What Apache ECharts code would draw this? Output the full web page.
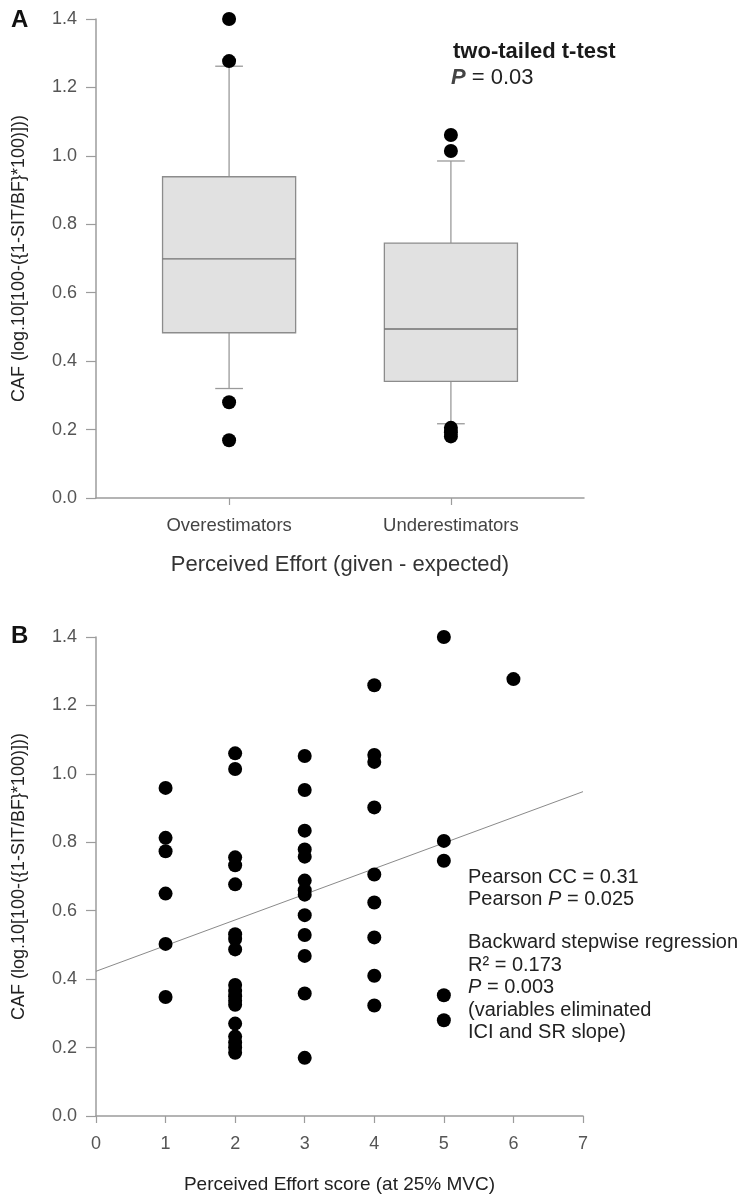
<!DOCTYPE html>
<html><head><meta charset="utf-8">
<script src="https://cdn.jsdelivr.net/npm/echarts@6/dist/echarts.min.js"></script>
<style>html,body{margin:0;padding:0;background:#fff}#chart{width:752px;height:1200px}</style>
</head><body><div id="chart"></div>
<script>
// ---------- Panel A: box plots ----------
const groups = ['Overestimators', 'Underestimators'];
const groupPos = [1, 2];
const whiskerLow = [0.320, 0.217];
const q1 = [0.483, 0.341];
const median = [0.699, 0.494];
const q3 = [0.939, 0.745];
const whiskerHigh = [1.262, 0.985];
const outliersOver = [1.400, 1.277, 0.280, 0.169];
const outliersUnder = [1.061, 1.014, 0.205, 0.192, 0.180];

// ---------- Panel B: scatter ----------
const scoreTicks = [0, 1, 2, 3, 4, 5, 6, 7];
const cafScore1 = [0.959, 0.813, 0.774, 0.650, 0.503, 0.348];
const cafScore2 = [1.060, 1.014, 0.756, 0.733, 0.677, 0.531, 0.517, 0.487, 0.383, 0.365, 0.350, 0.337, 0.325, 0.270, 0.232, 0.215, 0.200, 0.185];
const cafScore3 = [1.052, 0.953, 0.834, 0.779, 0.758, 0.688, 0.660, 0.647, 0.587, 0.529, 0.468, 0.358, 0.170];
const cafScore4 = [1.259, 1.055, 1.035, 0.902, 0.706, 0.624, 0.522, 0.410, 0.323];
const cafScore5 = [1.400, 0.804, 0.746, 0.353, 0.280];
const cafScore6 = [1.277];
const fitX = [0, 7];
const fitY = [0.423, 0.948];

const yTicksLabel = v => v.toFixed(1);
const FONT = '"Liberation Sans", Arial, sans-serif';
const axisGray = '#9c9c9c';

const boxData = groups.map((g, i) => [groupPos[i], whiskerLow[i], q1[i], median[i], q3[i], whiskerHigh[i]]);
const outlierData = [];
outliersOver.forEach(v => outlierData.push([groupPos[0], v]));
outliersUnder.forEach(v => outlierData.push([groupPos[1], v]));

const scatterData = [];
[cafScore1, cafScore2, cafScore3, cafScore4, cafScore5, cafScore6].forEach((arr, i) => {
  arr.forEach(v => scatterData.push([i + 1, v]));
});

function renderBox(params, api) {
  const x = api.value(0);
  const lo = api.coord([x, api.value(1)]);
  const b1 = api.coord([x, api.value(2)]);
  const md = api.coord([x, api.value(3)]);
  const b3 = api.coord([x, api.value(4)]);
  const hi = api.coord([x, api.value(5)]);
  const half = api.size([0.6, 0])[0] / 2;
  const cap = api.size([0.125, 0])[0] / 2;
  const ws = { stroke: '#9a9a9a', lineWidth: 1.3 };
  return {
    type: 'group',
    children: [
      { type: 'line', shape: { x1: lo[0], y1: lo[1], x2: b1[0], y2: b1[1] }, style: ws },
      { type: 'line', shape: { x1: b3[0], y1: b3[1], x2: hi[0], y2: hi[1] }, style: ws },
      { type: 'line', shape: { x1: lo[0] - cap, y1: lo[1], x2: lo[0] + cap, y2: lo[1] }, style: ws },
      { type: 'line', shape: { x1: hi[0] - cap, y1: hi[1], x2: hi[0] + cap, y2: hi[1] }, style: ws },
      { type: 'rect', shape: { x: b3[0] - half, y: b3[1], width: half * 2, height: b1[1] - b3[1] },
        style: { fill: '#e1e1e1', stroke: '#8c8c8c', lineWidth: 1.3 } },
      { type: 'line', shape: { x1: md[0] - half, y1: md[1], x2: md[0] + half, y2: md[1] },
        style: { stroke: '#707070', lineWidth: 1.3 } }
    ]
  };
}

const yAxisCommon = {
  type: 'value', min: 0, max: 1.4, interval: 0.2,
  name: 'CAF (log.10[100-({1-SIT/BF}*100)]))',
  nameLocation: 'middle', nameGap: 68, nameRotate: 90,
  nameTextStyle: { fontSize: 18, color: '#222', fontFamily: FONT },
  axisLine: { show: true, lineStyle: { color: axisGray, width: 1.5 } },
  axisTick: { show: true, length: 10, lineStyle: { color: axisGray, width: 1.2 } },
  axisLabel: { formatter: yTicksLabel, fontSize: 18, color: '#555', margin: 19, fontFamily: FONT },
  splitLine: { show: false }
};

const option = {
  backgroundColor: '#fff',
  animation: false,
  grid: [
    { left: 96, top: 19, width: 488, height: 479 },
    { left: 96, top: 637, width: 487, height: 479 }
  ],
  xAxis: [
    {
      gridIndex: 0, type: 'value', min: 0.4, max: 2.6,
      name: 'Perceived Effort (given - expected)',
      nameLocation: 'middle', nameGap: 56,
      nameTextStyle: { fontSize: 22, color: '#333', fontFamily: FONT },
      axisLine: { show: true, lineStyle: { color: axisGray, width: 1.5 } },
      axisTick: { show: true, length: 7, customValues: groupPos, lineStyle: { color: axisGray, width: 1.2 } },
      axisLabel: { customValues: groupPos, formatter: v => groups[Math.round(v) - 1] || '',
        fontSize: 18.5, color: '#444', margin: 18, fontFamily: FONT },
      splitLine: { show: false }
    },
    {
      gridIndex: 1, type: 'value', min: 0, max: 7, interval: 1,
      name: 'Perceived Effort score (at 25% MVC)',
      nameLocation: 'middle', nameGap: 59,
      nameTextStyle: { fontSize: 19, color: '#222', fontFamily: FONT },
      axisLine: { show: true, lineStyle: { color: axisGray, width: 1.5 } },
      axisTick: { show: true, length: 7, lineStyle: { color: axisGray, width: 1.2 } },
      axisLabel: { formatter: v => String(scoreTicks[v] !== undefined ? scoreTicks[v] : v),
        fontSize: 18, color: '#555', margin: 19, fontFamily: FONT },
      splitLine: { show: false }
    }
  ],
  yAxis: [
    Object.assign({ gridIndex: 0 }, yAxisCommon),
    Object.assign({ gridIndex: 1 }, yAxisCommon)
  ],
  series: [
    { type: 'custom', xAxisIndex: 0, yAxisIndex: 0, renderItem: renderBox, data: boxData,
      encode: { x: 0, y: [1, 2, 3, 4, 5] }, z: 2 },
    { type: 'scatter', xAxisIndex: 0, yAxisIndex: 0, data: outlierData, symbolSize: 14,
      itemStyle: { color: '#000', opacity: 1 }, z: 3 },
    { type: 'line', xAxisIndex: 1, yAxisIndex: 1, data: fitX.map((x, i) => [x, fitY[i]]),
      showSymbol: false, lineStyle: { color: '#8a8a8a', width: 1 }, z: 1 },
    { type: 'scatter', xAxisIndex: 1, yAxisIndex: 1, data: scatterData, symbolSize: 14,
      itemStyle: { color: '#000', opacity: 1 }, z: 3 }
  ],
  graphic: [
    { type: 'text', x: 11, y: 20, style: { text: 'A', font: 'bold 24px ' + FONT, fill: '#111', verticalAlign: 'middle' } },
    { type: 'text', x: 11, y: 636, style: { text: 'B', font: 'bold 24px ' + FONT, fill: '#111', verticalAlign: 'middle' } },
    { type: 'text', x: 453, y: 52, style: { text: 'two-tailed t-test', font: 'bold 22px ' + FONT, fill: '#1a1a1a', verticalAlign: 'middle' } },
    { type: 'text', x: 451, y: 78, style: { text: '{p|P} = 0.03', font: '22px ' + FONT, fill: '#222', verticalAlign: 'middle',
        rich: { p: { fontStyle: 'italic', fontWeight: 'bold', fontSize: 22, fontFamily: FONT, fill: '#444' } } } },
    { type: 'text', x: 468, y: 877, style: { text: 'Pearson CC = 0.31', font: '20px ' + FONT, fill: '#222', verticalAlign: 'middle' } },
    { type: 'text', x: 468, y: 899, style: { text: 'Pearson {p|P} = 0.025', font: '20px ' + FONT, fill: '#222', verticalAlign: 'middle',
        rich: { p: { fontStyle: 'italic', fontSize: 20, fontFamily: FONT, fill: '#222' } } } },
    { type: 'text', x: 468, y: 942, style: { text: 'Backward stepwise regression', font: '20px ' + FONT, fill: '#222', verticalAlign: 'middle' } },
    { type: 'text', x: 468, y: 965, style: { text: 'R² = 0.173', font: '20px ' + FONT, fill: '#222', verticalAlign: 'middle' } },
    { type: 'text', x: 468, y: 987, style: { text: '{p|P} = 0.003', font: '20px ' + FONT, fill: '#222', verticalAlign: 'middle',
        rich: { p: { fontStyle: 'italic', fontSize: 20, fontFamily: FONT, fill: '#222' } } } },
    { type: 'text', x: 468, y: 1010, style: { text: '(variables eliminated', font: '20px ' + FONT, fill: '#222', verticalAlign: 'middle' } },
    { type: 'text', x: 468, y: 1032, style: { text: 'ICI and SR slope)', font: '20px ' + FONT, fill: '#222', verticalAlign: 'middle' } }
  ]
};

const chart = echarts.init(document.getElementById('chart'), null, { renderer: 'canvas', width: 752, height: 1200 });
chart.setOption(option);
</script>
</body></html>
